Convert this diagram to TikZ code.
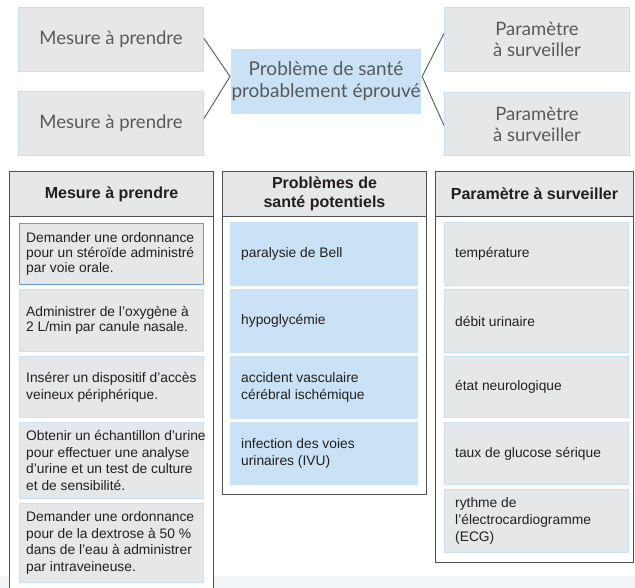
\documentclass[tikz,border=0pt]{standalone}
\usepackage{fontspec}
\setmainfont{Liberation Sans}
\newfontfamily\latofont{Lato}
\definecolor{boxgray}{HTML}{E6E7E8}
\definecolor{boxblue}{HTML}{C5DEF2}
\definecolor{paleblue}{HTML}{C9E2F5}
\definecolor{itemblue}{HTML}{C8E0F3}
\definecolor{darkblue}{HTML}{6A9BD1}
\definecolor{topgray}{HTML}{58595B}
\definecolor{tabtext}{HTML}{231F20}
\definecolor{framegray}{HTML}{505050}
\definecolor{bandcol}{HTML}{F2F5F8}
\newcommand\mytop{\latofont\fontsize{18.5}{21}\selectfont}
\newcommand\myhead{\bfseries\fontsize{16}{19}\selectfont}
\tikzset{
  topbox/.style={fill=boxgray, draw=boxblue, line width=1pt, font=\mytop, text=topgray,
    align=center, inner sep=0pt, anchor=north west},
  framebox/.style={draw=framegray, fill=white, line width=1.3pt, anchor=north west, inner sep=0pt},
  headbox/.style={fill=boxgray, draw=framegray, line width=1pt, anchor=north west,
    font=\myhead, align=center, inner sep=0pt, text=tabtext, minimum height=45pt},
  lead/.style={font={\fontsize{13.8}{#1}\selectfont}},
  gitem/.style={fill=boxgray, draw=itemblue, line width=1pt, anchor=north west, inner sep=0pt},
  litem/.style={gitem, minimum width=184pt},
  ritem/.style={gitem, minimum width=184pt},
  mitem/.style={gitem, fill=paleblue, draw=paleblue, minimum width=187pt},
  itext/.style={anchor=west, align=left, inner sep=0pt, text=tabtext, lead=15.5},
  conn/.style={draw=topgray, line width=0.9pt}
}
\begin{document}
\begin{tikzpicture}[x=1pt,y=-1pt]
\useasboundingbox (0,0) rectangle (635,588);
\clip (0,0) rectangle (635,588);
\fill[white] (0,0) rectangle (635,588);
\fill[bandcol] (0,576) rectangle (635,588);

% top diagram
\node[topbox, minimum width=185pt, minimum height=64pt] (tl) at (18,7) {Mesure à prendre};
\node[topbox, minimum width=185pt, minimum height=64pt] (bl) at (18,91) {Mesure à prendre};
\node[topbox, fill=paleblue, draw=paleblue, minimum width=186pt, minimum height=64pt,
  font=\latofont\fontsize{19}{22}\selectfont] (c) at (231,49)
  {Problème de santé\\probablement éprouvé};
\node[topbox, minimum width=185pt, minimum height=64pt] (tr) at (444,7) {Paramètre\\à surveiller};
\node[topbox, minimum width=185pt, minimum height=63pt] (br) at (444,92) {Paramètre\\à surveiller};

\draw[conn] ([yshift=1pt]tl.east) -- ([xshift=-1pt,yshift=5pt]c.west) -- ([yshift=5pt]bl.east);
\draw[conn] ([yshift=6pt]tr.west) -- ([xshift=1pt,yshift=5pt]c.east) -- ([yshift=-1.5pt]br.west);

% left table
\node[framebox, minimum width=204pt, minimum height=440pt] (f1) at (9,171) {};
\node[headbox, minimum width=204pt] (h1) at (9,171) {Mesure à prendre};
\node[litem, draw=darkblue, minimum height=61pt] (l1) at (19,223) {};
\node[itext, lead=14.7] (l1t) at ([xshift=7pt]l1.west)
  {Demander une ordonnance\\pour un stéroïde administré\\par voie orale.};
\node[litem, minimum height=62pt] (l2) at (19,289) {};
\node[itext, lead=15] (l2t) at ([xshift=7pt]l2.west)
  {Administrer de l’oxygène à\\2 L/min par canule nasale.};
\node[litem, minimum height=61pt] (l3) at (19,356) {};
\node[itext, lead=17] (l3t) at ([xshift=7pt]l3.west)
  {Insérer un dispositif d’accès\\veineux périphérique.};
\node[litem, minimum height=76pt] (l4) at (19,422) {};
\node[itext, lead=16.5] (l4t) at ([xshift=7pt]l4.west)
  {Obtenir un échantillon d’urine\\pour effectuer une analyse\\d’urine et un test de culture\\et de sensibilité.};
\node[litem, minimum height=79pt] (l5) at (19,503) {};
\node[itext, lead=16.5] (l5t) at ([xshift=7pt]l5.west)
  {Demander une ordonnance\\pour de la dextrose à 50~\%\\dans de l’eau à administrer\\par intraveineuse.};

% middle table
\node[framebox, minimum width=204pt, minimum height=323pt] (f2) at (222,171) {};
\node[headbox, minimum width=204pt] (h2) at (222,171) {Problèmes de\\santé potentiels};
\node[mitem, minimum height=63pt] (m1) at (230,222) {};
\node[itext] (m1t) at ([xshift=11pt]m1.west) {paralysie de Bell};
\node[mitem, minimum height=63pt] (m2) at (230,289) {};
\node[itext] (m2t) at ([xshift=11pt]m2.west) {hypoglycémie};
\node[mitem, minimum height=62pt] (m3) at (230,356) {};
\node[itext, lead=17] (m3t) at ([xshift=11pt]m3.west) {accident vasculaire\\cérébral ischémique};
\node[mitem, minimum height=62pt] (m4) at (230,422) {};
\node[itext, lead=17] (m4t) at ([xshift=11pt]m4.west) {infection des voies\\urinaires (IVU)};

% right table
\node[framebox, minimum width=198pt, minimum height=391pt] (f3) at (435,171) {};
\node[headbox, minimum width=198pt] (h3) at (435,171) {Paramètre à surveiller};
\node[ritem, minimum height=63pt] (r1) at (444,222) {};
\node[itext] (r1t) at ([xshift=11pt]r1.west) {température};
\node[ritem, minimum height=63pt] (r2) at (444,289) {};
\node[itext] (r2t) at ([xshift=11pt]r2.west) {débit urinaire};
\node[ritem, minimum height=61pt] (r3) at (444,356) {};
\node[itext] (r3t) at ([xshift=11pt]r3.west) {état neurologique};
\node[ritem, minimum height=62pt] (r4) at (444,422) {};
\node[itext] (r4t) at ([xshift=11pt]r4.west) {taux de glucose sérique};
\node[ritem, minimum height=63pt] (r5) at (444,489) {};
\node[itext, lead=17] (r5t) at ([xshift=11pt]r5.west) {rythme de\\l’électrocardiogramme\\(ECG)};
\end{tikzpicture}
\end{document}
